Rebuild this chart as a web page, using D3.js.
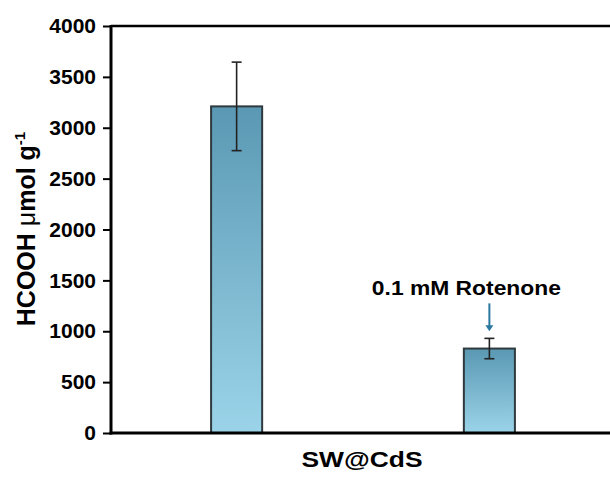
<!DOCTYPE html>
<html>
<head>
<meta charset="utf-8">
<script src="https://cdn.jsdelivr.net/npm/d3@7"></script>
<style>
  body { margin: 0; background: #fff; }
  text { font-family: "Liberation Sans", Arial, sans-serif; font-weight: bold; }
</style>
</head>
<body>
<div id="chart-area"></div>
<script>
// data
let groups = ["SW@CdS", "SW@CdS + 0.1 mM Rotenone"];
let values = [3210, 830];
let errors = [435, 100];
let yTicks = [0, 500, 1000, 1500, 2000, 2500, 3000, 3500, 4000];
let note = "0.1 mM Rotenone";

let margin = {left: 111, top: 26, right: 0, bottom: 44};
let width = 610 - margin.left - margin.right;
let height = 477 - margin.top - margin.bottom;

var svg = d3.select('#chart-area')
    .append('svg')
    .attr('width', 610)
    .attr('height', 477);

var defs = svg.append('defs');
var grad = defs.append('linearGradient')
    .attr('id', 'barGrad')
    .attr('x1', 0).attr('y1', 0).attr('x2', 0).attr('y2', 1);
grad.append('stop').attr('offset', '0%').attr('stop-color', '#5a98b3');
grad.append('stop').attr('offset', '100%').attr('stop-color', '#9bd4e9');

var g = svg.append('g')
    .attr('transform', 'translate(' + margin.left + ', ' + margin.top + ')');

var x = d3.scaleBand()
    .domain(groups)
    .range([0, 504])
    .paddingInner(0.798)
    .paddingOuter(0.396);

var y = d3.scaleLinear()
    .domain([0, 4000])
    .range([height, 0]);

// bars
g.selectAll('rect.bar')
    .data(values)
    .enter()
    .append('rect')
    .attr('class', 'bar')
    .attr('x', (d, i) => x(groups[i]))
    .attr('y', d => y(d))
    .attr('width', x.bandwidth())
    .attr('height', d => height - y(d))
    .attr('fill', 'url(#barGrad)')
    .attr('stroke', '#2f3a3e')
    .attr('stroke-width', 2);

// error bars
var eb = g.selectAll('g.err')
    .data(values)
    .enter()
    .append('g')
    .attr('class', 'err')
    .attr('stroke', '#222')
    .attr('stroke-width', 1.6);
eb.append('line')
    .attr('x1', (d, i) => x(groups[i]) + x.bandwidth() / 2)
    .attr('x2', (d, i) => x(groups[i]) + x.bandwidth() / 2)
    .attr('y1', (d, i) => y(d + errors[i]))
    .attr('y2', (d, i) => y(d - errors[i]));
[1, -1].forEach(function(s) {
    eb.append('line')
        .attr('x1', (d, i) => x(groups[i]) + x.bandwidth() / 2 - 5)
        .attr('x2', (d, i) => x(groups[i]) + x.bandwidth() / 2 + 5)
        .attr('y1', (d, i) => y(d + s * errors[i]))
        .attr('y2', (d, i) => y(d + s * errors[i]));
});

// y axis
var yAxisCall = d3.axisLeft(y)
    .tickValues(yTicks)
    .tickSize(8)
    .tickPadding(7)
    .tickFormat(d3.format('d'));
var yAxis = g.append('g')
    .attr('class', 'y axis')
    .call(yAxisCall);
yAxis.select('.domain').remove();
yAxis.selectAll('line').attr('stroke', '#000').attr('stroke-width', 2);
yAxis.selectAll('text')
    .attr('font-size', '21px')
    .attr('fill', '#000');

// frame: left, top, bottom
g.append('line')
    .attr('x1', 0).attr('x2', 0)
    .attr('y1', -1).attr('y2', height + 1.5)
    .attr('stroke', '#000').attr('stroke-width', 3);
g.append('line')
    .attr('x1', 0).attr('x2', width)
    .attr('y1', 0).attr('y2', 0)
    .attr('stroke', '#000').attr('stroke-width', 2.5);
g.append('line')
    .attr('x1', -1.5).attr('x2', width)
    .attr('y1', height).attr('y2', height)
    .attr('stroke', '#000').attr('stroke-width', 3);

// x label
g.append('text')
    .attr('x', 251)
    .attr('y', height + 34)
    .attr('font-size', '22px')
    .attr('text-anchor', 'middle')
    .attr('textLength', 121)
    .attr('lengthAdjust', 'spacingAndGlyphs')
    .text('SW@CdS');

// y label
var yl = svg.append('text')
    .attr('transform', 'translate(35, 229) rotate(-90)')
    .attr('text-anchor', 'middle')
    .attr('font-size', '25px');
yl.append('tspan').text('HCOOH ');
yl.append('tspan').attr('font-weight', 'normal').text('\u03bc');
yl.append('tspan').text('mol g');
yl.append('tspan').attr('font-size', '15px').attr('dy', -10).text('-1');

// annotation with arrow
var cx = x(groups[1]) + x.bandwidth() / 2;
g.append('text')
    .attr('x', cx - 23)
    .attr('y', y(values[1] + errors[1]) - 43)
    .attr('font-size', '21px')
    .attr('text-anchor', 'middle')
    .attr('textLength', 189)
    .attr('lengthAdjust', 'spacingAndGlyphs')
    .text(note);
var ay = y(values[1] + errors[1]);
g.append('line')
    .attr('x1', cx).attr('x2', cx)
    .attr('y1', ay - 35).attr('y2', ay - 12)
    .attr('stroke', '#2878a0').attr('stroke-width', 2);
g.append('path')
    .attr('d', 'M' + (cx - 4) + ',' + (ay - 13) + 'L' + (cx + 4) + ',' + (ay - 13) + 'L' + cx + ',' + (ay - 7) + 'Z')
    .attr('fill', '#2878a0');
</script>
</body>
</html>
